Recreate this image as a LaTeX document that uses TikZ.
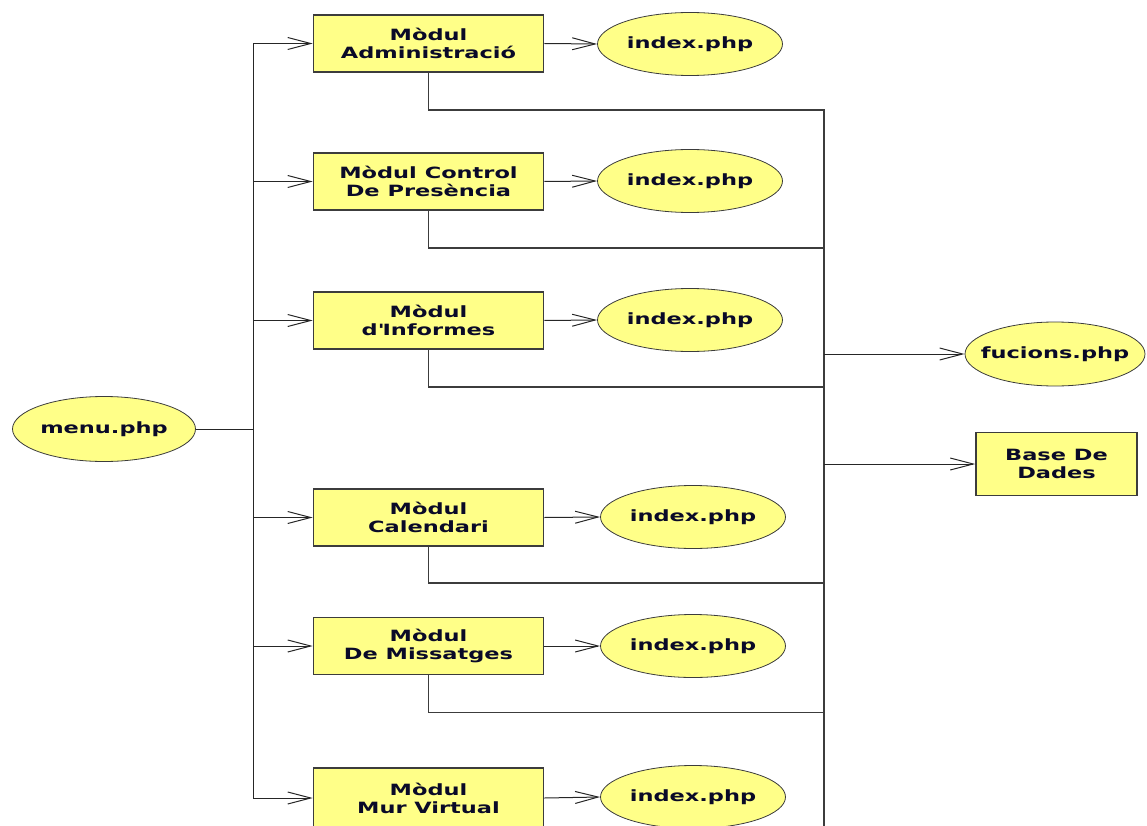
\documentclass[tikz,border=0pt]{standalone}
\usepackage{fontspec}
\setmainfont{DejaVu Sans}[FakeStretch=1.45]
\usetikzlibrary{arrows.meta,shapes.geometric}
\definecolor{boxfill}{RGB}{255,255,136}
\definecolor{txt}{RGB}{10,10,40}
\definecolor{edge}{RGB}{60,60,60}
% file labels take no width, so every ellipse keeps its own size
\newcommand{\flabel}[1]{\makebox[0pt][c]{#1}}

\begin{document}
\begin{tikzpicture}[x=1pt,y=-1pt,
  lbl/.style={font=\fontsize{15.5}{18}\selectfont\bfseries, text=txt, align=center, inner sep=0pt},
  modbox/.style={lbl, rectangle, draw=edge, line width=1.6pt, fill=boxfill,
                 minimum width=230pt, minimum height=57pt},
  file/.style={lbl, ellipse, draw=edge, line width=0.8pt, fill=boxfill,
               minimum width=185pt, minimum height=63pt},
  link/.style={line width=1pt, black!85},
  bus/.style={line width=1.6pt, edge},
  arr/.style={link, -{Straight Barb[length=23pt,width=12pt,line width=1pt]}},
]
\useasboundingbox (0,0) rectangle (1147,826);
\clip (0,0) rectangle (1147,826);

% entry point
\node[file, minimum width=183pt, minimum height=65pt] (menu) at (104,429) {\flabel{menu.php}};

% modules
\node[modbox] (m1) at (428.5,43.5)  {Mòdul\\Administració};
\node[modbox] (m2) at (428.5,181.5) {Mòdul Control\\De Presència};
\node[modbox] (m3) at (428.5,320.5) {Mòdul\\d\textquotesingle Informes};
\node[modbox] (m4) at (428.5,517.5) {Mòdul\\Calendari};
\node[modbox] (m5) at (428.5,646)   {Mòdul\\De Missatges};
\node[modbox, minimum height=60pt] (m6) at (428.5,798) {Mòdul\\Mur Virtual};

% module pages
\node[file] (i1) at (690,44)  {\flabel{index.php}};
\node[file] (i2) at (690,181) {\flabel{index.php}};
\node[file] (i3) at (690,320) {\flabel{index.php}};
\node[file] (i4) at (693,517) {\flabel{index.php}};
\node[file] (i5) at (693,646) {\flabel{index.php}};
\node[file] (i6) at (693,797) {\flabel{index.php}};

% shared resources
\node[file, minimum width=180pt, minimum height=64pt] (fun) at (1055,354) {\flabel{fucions.php}};
\node[modbox, minimum width=161pt, minimum height=63pt] (bd) at (1056.5,464) {Base De\\Dades};

% menu fan-out
\coordinate (lb) at (253,429);
\draw[link] (menu.east) -- (lb);
\foreach \k in {1,...,6} {
  \draw[arr] (lb) |- (m\k.west);
  \draw[arr] (m\k.east) -- (i\k.west);
}

% modules gather into the shared bus
\coordinate (rt) at (824,110);
\coordinate (rb) at (824,830);
\draw[bus] (m1.south) |- (rt) -- (rb);
\draw[bus] (m2.south) -- ++(0,37) -| (rt);
\draw[bus] (m3.south) -- ++(0,37) -| (rt);
\draw[bus] (m4.south) -- ++(0,36) -| (rt);
\draw[bus] (m5.south) -- ++(0,37) -| (rt);

\draw[arr] (rt |- fun.west) -- (fun.west);
\draw[arr] (rt |- bd.west) -- (bd.west);
\end{tikzpicture}
\end{document}
